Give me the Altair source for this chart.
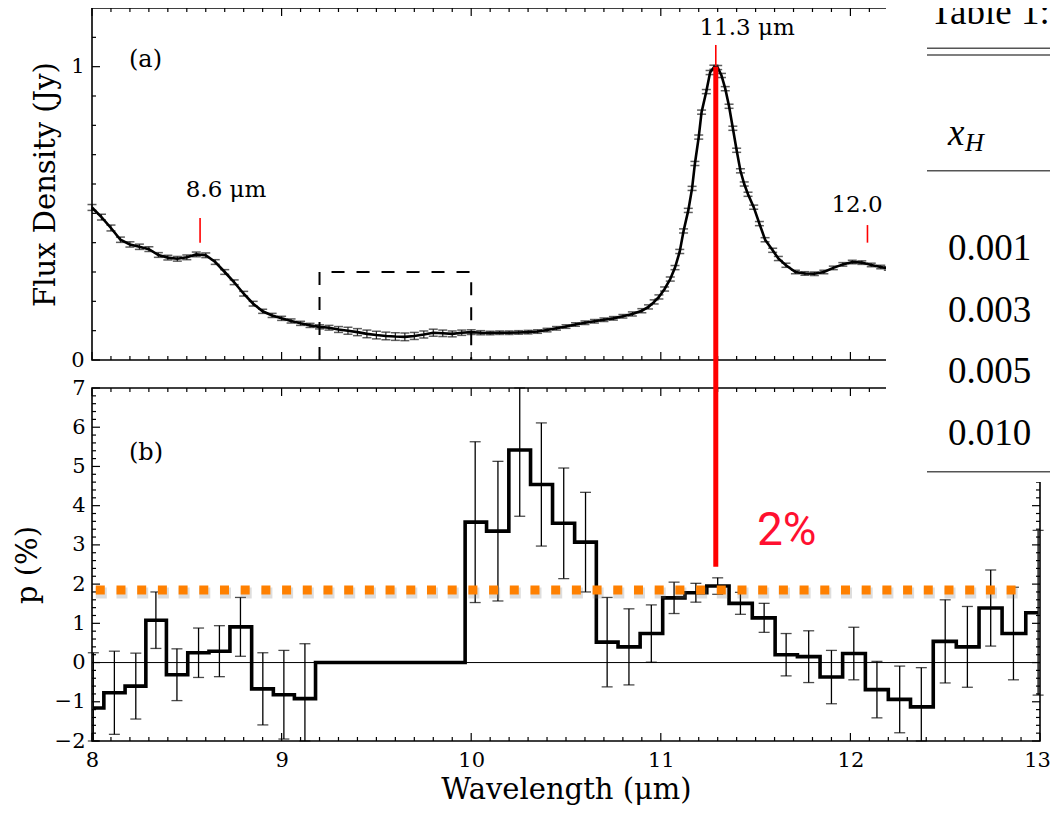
import altair as alt
import pandas as pd

SERIF = "DejaVu Serif"
TFONT = "Liberation Serif"

# ---------------- panel (a): flux spectrum ----------------
wl_a = [8.00, 8.05, 8.10, 8.15, 8.20, 8.25, 8.30, 8.35, 8.40, 8.45,
        8.50, 8.55, 8.60, 8.65, 8.70, 8.75, 8.80, 8.85, 8.90, 8.95,
        9.00, 9.05, 9.10, 9.15, 9.20, 9.25, 9.30, 9.35, 9.40, 9.45,
        9.50, 9.55, 9.60, 9.65, 9.70, 9.75, 9.80, 9.85, 9.90, 9.95,
        10.00, 10.05, 10.10, 10.15, 10.20, 10.25, 10.30, 10.35, 10.40, 10.45,
        10.50, 10.55, 10.60, 10.65, 10.70, 10.75, 10.80, 10.85, 10.90, 10.935,
        10.965, 10.99, 11.02, 11.05, 11.075, 11.10, 11.12, 11.145, 11.165, 11.18,
        11.20, 11.215, 11.24, 11.26, 11.28, 11.30, 11.32, 11.34, 11.36, 11.38,
        11.40, 11.42, 11.44, 11.46, 11.49, 11.52, 11.55, 11.59, 11.62, 11.66,
        11.71, 11.76, 11.81, 11.86, 11.91, 11.96, 12.01, 12.06, 12.11, 12.16,
        12.20]
flux_a = [0.520, 0.487, 0.450, 0.410, 0.394, 0.386, 0.378, 0.358, 0.349, 0.345,
          0.350, 0.360, 0.357, 0.334, 0.300, 0.265, 0.226, 0.192, 0.166, 0.152,
          0.142, 0.133, 0.125, 0.118, 0.113, 0.110, 0.104, 0.100, 0.095, 0.089,
          0.085, 0.082, 0.080, 0.079, 0.082, 0.087, 0.093, 0.091, 0.089, 0.093,
          0.095, 0.093, 0.092, 0.093, 0.093, 0.094, 0.095, 0.097, 0.102, 0.108,
          0.114, 0.121, 0.127, 0.132, 0.137, 0.142, 0.149, 0.157, 0.168, 0.181,
          0.198, 0.215, 0.242, 0.276, 0.315, 0.370, 0.440, 0.510, 0.585, 0.670,
          0.760, 0.845, 0.915, 0.980, 0.998, 0.997, 0.970, 0.925, 0.865, 0.790,
          0.715, 0.645, 0.600, 0.565, 0.521, 0.465, 0.410, 0.374, 0.346, 0.323,
          0.300, 0.295, 0.294, 0.300, 0.314, 0.326, 0.334, 0.332, 0.324, 0.317,
          0.312]
err_a = [0.010, 0.010, 0.010, 0.009, 0.009, 0.009, 0.008, 0.008, 0.008, 0.008,
         0.008, 0.008, 0.008, 0.008, 0.008, 0.008, 0.008, 0.008, 0.007, 0.007,
         0.007, 0.007, 0.007, 0.007, 0.007, 0.008, 0.010, 0.012, 0.012, 0.013,
         0.013, 0.013, 0.013, 0.013, 0.012, 0.012, 0.012, 0.011, 0.010, 0.009,
         0.008, 0.007, 0.006, 0.006, 0.006, 0.006, 0.006, 0.006, 0.006, 0.006,
         0.006, 0.006, 0.006, 0.006, 0.006, 0.006, 0.006, 0.007, 0.007, 0.007,
         0.007, 0.007, 0.007, 0.007, 0.007, 0.007, 0.007, 0.007, 0.007, 0.007,
         0.007, 0.007, 0.007, 0.007, 0.007, 0.007, 0.007, 0.007, 0.007, 0.007,
         0.007, 0.007, 0.007, 0.007, 0.007, 0.007, 0.007, 0.007, 0.007, 0.007,
         0.006, 0.006, 0.006, 0.006, 0.006, 0.006, 0.006, 0.006, 0.006, 0.006,
         0.006]

# ---------------- panel (b): polarization ----------------
wl_b = [8.007, 8.118, 8.231, 8.337, 8.448, 8.562, 8.672, 8.783, 8.901, 9.012,
        9.123, 9.235, 9.350, 9.460, 9.575, 9.690, 9.805, 9.915, 10.021, 10.141,
        10.256, 10.370, 10.488, 10.603, 10.717, 10.832, 10.950, 11.070, 11.185, 11.300,
        11.420, 11.545, 11.661, 11.780, 11.900, 12.018, 12.140, 12.260, 12.374, 12.500,
        12.617, 12.740, 12.860, 12.990]
pol_b = [-1.16, -0.77, -0.60, 1.08, -0.31, 0.25, 0.29, 0.91, -0.67, -0.82,
         -0.92, 0.0, 0.0, 0.0, 0.0, 0.0, 0.0, 0.0, 3.58, 3.35,
         5.42, 4.54, 3.55, 3.07, 0.52, 0.40, 0.74, 1.65, 1.78, 1.95,
         1.51, 1.14, 0.20, 0.15, -0.37, 0.23, -0.69, -0.94, -1.13, 0.54,
         0.40, 1.39, 0.74, 1.27]
perr_b = [1.41, 1.06, 0.84, 0.72, 0.66, 0.63, 0.65, 0.75, 0.92, 1.13,
          1.40, None, None, None, None, None, None, None, 2.05, 1.78,
          1.69, 1.57, 1.41, 1.27, 1.14, 0.97, 0.73, 0.40, 0.24, 0.21,
          0.28, 0.37, 0.54, 0.66, 0.68, 0.67, 0.72, 0.85, 1.00, 1.06,
          1.03, 0.97, 1.18, 2.10]

# ---------------- annotations ----------------
feature_wl = [8.57, 11.29, 12.09]
feature_lo = [0.400, 1.002, 0.400]
feature_hi = [0.484, 1.074, 0.460]
feature_text = ["8.6 μm", "11.3 μm", "12.0"]
feature_text_wl = [8.707, 11.455, 12.035]
feature_text_flux = [0.556, 1.108, 0.505]

box_wl = [9.2, 9.2, 10.0, 10.0]
box_flux = [0.0, 0.3, 0.3, 0.0]

peak_wl = 11.29
peak_flux = 1.0
level_p = 1.85
level_wl = [8.02, 12.90]
level_label = "2%"

table_title = "Table 1:"
table_head = ["x", "H"]
table_rows = ["0.001", "0.003", "0.005", "0.010"]

x_major = [8, 9, 10, 11, 12, 13]
x_minor = [round(8 + 0.1 * i, 1) for i in range(51) if i % 10]
ya_major = [0, 1]
ya_minor = [round(0.1 * i, 1) for i in range(1, 12) if i != 10]
yb_major = list(range(-2, 8))
yb_minor = [round(-2 + 0.2 * i, 1) for i in range(46) if i % 5]

# ---------------- layout (pixels inside the plot area) ----------------
W, H = 948, 733
A_BOT, A_TOP = 352, 0
B_BOT, B_TOP = 733, 380
LMAJ, LMIN = 8, 4

xs = alt.Scale(domain=[8, 13], nice=False, zero=False)
ys_a = alt.Scale(domain=[0, 1.2], range=[A_BOT, A_TOP], nice=False, zero=False)
ys_b = alt.Scale(domain=[-2, 7], range=[B_BOT, B_TOP], nice=False, zero=False, clamp=True)
ys_o = alt.Scale(domain=[-2, 7], range=[B_BOT, B_TOP], nice=False, zero=False)

x_axis = alt.Axis(values=x_major, format="d", ticks=False, tickSize=0, domain=False, grid=False,
                  labelFont=SERIF, labelFontSize=21, labelColor="black", labelPadding=8,
                  labelFlush=False, labelOverlap=False,
                  labelOffset={"condition": {"test": "datum.value === 13", "value": -3}, "value": 0},
                  title="Wavelength (μm)", titleFont=SERIF, titleFontSize=29,
                  titleFontWeight="normal", titleColor="black", titlePadding=5)
ya_axis = alt.Axis(orient="left", values=ya_major, format="d", ticks=False, tickSize=0,
                   domain=False, grid=False, labelFont=SERIF, labelFontSize=21,
                   labelColor="black", labelPadding=8, labelFlush=False, labelOverlap=False,
                   title="Flux Density (Jy)", titleFont=SERIF, titleFontSize=29,
                   titleFontWeight="normal", titleColor="black", titlePadding=10)
yb_axis = alt.Axis(orient="left", values=yb_major, format="d", ticks=False, tickSize=0,
                   domain=False, grid=False, labelFont=SERIF, labelFontSize=21,
                   labelColor="black", labelPadding=7, labelFlush=False, labelOverlap=False,
                   title="p (%)", titleFont=SERIF, titleFontSize=29,
                   titleFontWeight="normal", titleColor="black", titlePadding=12)

one = pd.DataFrame({"k": [0]})


def X(field):
    return alt.X(field, type="quantitative", scale=xs, axis=x_axis)


def xticks(vals, y0, y1):
    return alt.Chart(pd.DataFrame({"t": vals})).mark_rule(color="black", strokeWidth=1.2).encode(
        x=X("t"), y=alt.value(y0), y2=alt.value(y1))


def yticks(vals, scale, axis, x0, x1):
    return alt.Chart(pd.DataFrame({"t": vals})).mark_rule(color="black", strokeWidth=1.2).encode(
        y=alt.Y("t:Q", scale=scale, axis=axis), x=alt.value(x0), x2=alt.value(x1))


def frame(y0, y1):
    return alt.Chart(one).mark_rect(fillOpacity=0, stroke="black", strokeWidth=1.6).encode(
        x=alt.value(0), x2=alt.value(W), y=alt.value(y0), y2=alt.value(y1))


# ---------------- top panel ----------------
dfa = pd.DataFrame({"wl": wl_a, "flux": flux_a, "err": err_a})
dfa["lo"] = dfa["flux"] - dfa["err"]
dfa["hi"] = dfa["flux"] + dfa["err"]

YA = lambda f: alt.Y(f, type="quantitative", scale=ys_a, axis=ya_axis)

a_line = alt.Chart(dfa).mark_line(color="black", strokeWidth=2.6).encode(x=X("wl"), y=YA("flux"))
a_err = alt.Chart(dfa).mark_rule(color="#222", strokeWidth=1.2).encode(x=X("wl"), y=YA("lo"), y2="hi:Q")
a_cap_hi = alt.Chart(dfa).mark_tick(orient="horizontal", color="#1a1a1a", size=9, thickness=1.5).encode(
    x=X("wl"), y=YA("hi"))
a_cap_lo = alt.Chart(dfa).mark_tick(orient="horizontal", color="#1a1a1a", size=9, thickness=1.5).encode(
    x=X("wl"), y=YA("lo"))

dfbox = pd.DataFrame({"wl": box_wl, "flux": box_flux, "i": list(range(len(box_wl)))})
a_box = alt.Chart(dfbox).mark_line(color="black", strokeWidth=2, strokeDash=[13, 12]).encode(
    x=X("wl"), y=YA("flux"), order="i:Q")

dff = pd.DataFrame({"wl": feature_wl, "lo": feature_lo, "hi": feature_hi,
                    "tx": feature_text_wl, "ty": feature_text_flux, "label": feature_text})
a_feat = alt.Chart(dff).mark_rule(color="#FF0000", strokeWidth=1.6).encode(x=X("wl"), y=YA("lo"), y2="hi:Q")
a_feat_txt = alt.Chart(dff).mark_text(font=SERIF, fontSize=23, color="black", align="center",
                                      baseline="alphabetic").encode(
    x=X("tx"), y=YA("ty"), text="label:N")
a_lbl = alt.Chart(pd.DataFrame({"wl": [8.195], "flux": [0.999], "t": ["(a)"]})).mark_text(
    font=SERIF, fontSize=24, color="black", align="left", baseline="alphabetic").encode(
    x=X("wl"), y=YA("flux"), text="t:N")
a_red = alt.Chart(pd.DataFrame({"wl": [peak_wl], "f1": [peak_flux], "f2": [0.0]})).mark_rule(
    color="#FF0000", strokeWidth=5).encode(x=X("wl"), y=YA("f1"), y2="f2:Q")

top = alt.layer(
    a_err, a_cap_hi, a_cap_lo, a_line, a_box, a_feat, a_feat_txt, a_lbl,
    frame(A_TOP, A_BOT),
    xticks(x_major, A_TOP, A_TOP + LMAJ), xticks(x_minor, A_TOP, A_TOP + LMIN),
    xticks(x_major, A_BOT, A_BOT - LMAJ), xticks(x_minor, A_BOT, A_BOT - LMIN),
    yticks(ya_major, ys_a, ya_axis, 0, LMAJ), yticks(ya_minor, ys_a, ya_axis, 0, LMIN),
    yticks(ya_major, ys_a, ya_axis, W, W - LMAJ), yticks(ya_minor, ys_a, ya_axis, W, W - LMIN),
    a_red,
)

# ---------------- bottom panel ----------------
dfb = pd.DataFrame({"wl": wl_b, "p": pol_b, "err": perr_b})
dfe = dfb.dropna(subset=["err"]).copy()
dfe["lo"] = dfe["p"] - dfe["err"].astype(float)
dfe["hi"] = dfe["p"] + dfe["err"].astype(float)

YB = lambda f: alt.Y(f, type="quantitative", scale=ys_b, axis=yb_axis)

b_zero = alt.Chart(pd.DataFrame({"p": [0.0]})).mark_rule(color="black", strokeWidth=1).encode(y=YB("p"))
b_step = alt.Chart(dfb).mark_line(interpolate="step", color="black", strokeWidth=3.6).encode(
    x=X("wl"), y=YB("p"))
b_err = alt.Chart(dfe).mark_rule(color="black", strokeWidth=1.3).encode(x=X("wl"), y=YB("lo"), y2="hi:Q")
b_cap_hi = alt.Chart(dfe).mark_tick(orient="horizontal", color="black", size=11, thickness=1.3).encode(
    x=X("wl"), y=YB("hi"))
b_cap_lo = alt.Chart(dfe).mark_tick(orient="horizontal", color="black", size=11, thickness=1.3).encode(
    x=X("wl"), y=YB("lo"))
b_lbl = alt.Chart(pd.DataFrame({"wl": [8.195], "p": [5.17], "t": ["(b)"]})).mark_text(
    font=SERIF, fontSize=24, color="black", align="left", baseline="alphabetic").encode(
    x=X("wl"), y=YB("p"), text="t:N")

bottom = alt.layer(
    b_zero, b_err, b_cap_hi, b_cap_lo, b_step, b_lbl,
    frame(B_TOP, B_BOT),
    xticks(x_major, B_TOP, B_TOP + LMAJ), xticks(x_minor, B_TOP, B_TOP + LMIN),
    xticks(x_major, B_BOT, B_BOT - LMAJ), xticks(x_minor, B_BOT, B_BOT - LMIN),
    yticks(yb_major, ys_b, yb_axis, 0, LMAJ), yticks(yb_minor, ys_b, yb_axis, 0, LMIN),
    yticks(yb_major, ys_b, yb_axis, W, W - LMAJ), yticks(yb_minor, ys_b, yb_axis, W, W - LMIN),
)

# ---------------- overlay (annotations + table snippet) ----------------
YO = lambda f: alt.Y(f, type="quantitative", scale=ys_o, axis=None)

dfl = pd.DataFrame({"wl": level_wl, "p": [level_p, level_p]})
o_red = alt.Chart(pd.DataFrame({"wl": [peak_wl], "p1": [7.72], "p2": [2.44]})).mark_rule(
    color="#FF0000", strokeWidth=5).encode(x=X("wl"), y=YO("p1"), y2="p2:Q")
o_shadow = alt.Chart(dfl).mark_line(
    color="#777", opacity=0.25, strokeWidth=11, strokeDash=[11, 9.7], strokeCap="butt",
    xOffset=0, yOffset=3).encode(x=X("wl"), y=YO("p"))
o_level = alt.Chart(dfl).mark_line(
    color="#FF8000", strokeWidth=9, strokeDash=[9, 11.7], strokeCap="butt").encode(x=X("wl"), y=YO("p"))
o_text = alt.Chart(pd.DataFrame({"wl": [11.507], "p": [3.0], "t": [level_label]})).mark_text(
    font="Roboto", fontSize=46, color="#FF1030", align="left", baseline="alphabetic").encode(
    x=X("wl"), y=YO("p"), text="t:N")

o_white = alt.Chart(one).mark_rect(color="white").encode(
    x=alt.value(794), x2=alt.value(980), y=alt.value(-10), y2=alt.value(474))


def trule(y):
    return alt.Chart(one).mark_rule(color="#555", strokeWidth=1.4).encode(
        x=alt.value(835), x2=alt.value(980), y=alt.value(y), y2=alt.value(y))


def ttext(s, x, y, size=37, style="normal"):
    return alt.Chart(one).mark_text(text=s, font=TFONT, fontSize=size, fontStyle=style,
                                    color="black", align="left", baseline="alphabetic").encode(
        x=alt.value(x), y=alt.value(y))


table_layers = [o_white, trule(40.3), trule(47), trule(162.7), trule(463.7),
                ttext(table_title, 838, 16),
                ttext(table_head[0], 856, 137, 37, "italic"),
                ttext(table_head[1], 873, 143, 26, "italic")]
for i, s in enumerate(table_rows):
    table_layers.append(ttext(s, 856, [252, 314, 375, 437][i]))

overlay = alt.layer(o_shadow, o_level, o_red, o_text, *table_layers)

chart = alt.layer(top, bottom, overlay).resolve_scale(y="independent").properties(
    width=W, height=H,
    padding={"left": 84, "top": 0, "right": 10, "bottom": 65},
    autosize=alt.AutoSizeParams(type="none"),
).configure_view(stroke=None)

chart.save("out.html", embed_options={"renderer": "svg", "actions": False})
